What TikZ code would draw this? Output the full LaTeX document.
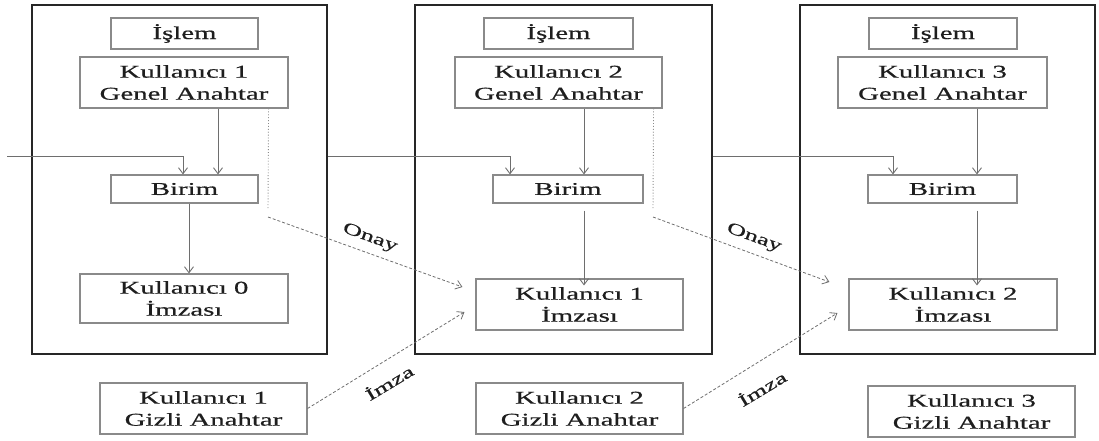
\documentclass[tikz,border=0pt]{standalone}
\usepackage{fontspec}
\setmainfont{Liberation Serif}[FakeStretch=1.6, FakeBold=0.6]
\usetikzlibrary{arrows.meta,calc}
\definecolor{boxline}{HTML}{8A8A8A}
\definecolor{arrline}{HTML}{6E6E6E}
\definecolor{ink}{HTML}{1E1E1E}
\tikzset{
  panel/.style={draw=black!85, line width=2pt, inner sep=0pt},
  cell/.style={draw=boxline, line width=1.1pt, inner sep=0pt, text=ink,
    align=center, font=\fontsize{18}{22}\selectfont},
  arr/.style={draw=arrline, line width=0.9pt, -{Straight Barb[length=6pt,width=9pt]}},
  dots/.style={draw=boxline, line width=0.9pt, dotted},
  dash arr/.style={draw=arrline, line width=0.8pt, dash pattern=on 3pt off 2pt,
    -{Straight Barb[length=6pt,width=9pt]}},
  tag/.style={text=ink, inner sep=0pt, font=\fontsize{16.5}{20}\selectfont},
}
\begin{document}
\begin{tikzpicture}[x=1pt,y=-1pt]
\useasboundingbox (0,0) rectangle (1099,441);

% three panels
\node[panel, minimum width=295pt, minimum height=349pt] (P1) at (179.5,179.5) {};
\node[panel, minimum width=297pt, minimum height=349pt] (P2) at (563.5,179.5) {};
\node[panel, minimum width=295pt, minimum height=349pt] (P3) at (947.5,179.5) {};

% panel 1
\node[cell, minimum width=147pt, minimum height=31pt] (I1) at (184.5,33.5) {İşlem};
\node[cell, minimum width=208pt, minimum height=51pt] (G1) at (184,82.5) {Kullanıcı 1\\Genel Anahtar};
\node[cell, minimum width=147pt, minimum height=28pt] (B1) at (184.5,189) {Birim};
\node[cell, minimum width=208pt, minimum height=49pt] (S0) at (184,298.5) {Kullanıcı 0\\İmzası};
\node[cell, minimum width=207pt, minimum height=51pt] (Z1) at (203.5,408.5) {Kullanıcı 1\\Gizli Anahtar};

% panel 2
\node[cell, minimum width=149pt, minimum height=31pt] (I2) at (558.5,33.5) {İşlem};
\node[cell, minimum width=207pt, minimum height=51pt] (G2) at (558.5,82.5) {Kullanıcı 2\\Genel Anahtar};
\node[cell, minimum width=150pt, minimum height=28pt] (B2) at (568,189) {Birim};
\node[cell, minimum width=207pt, minimum height=51pt] (S1) at (579.5,304.5) {Kullanıcı 1\\İmzası};
\node[cell, minimum width=207pt, minimum height=51pt] (Z2) at (579.5,408.5) {Kullanıcı 2\\Gizli Anahtar};

% panel 3
\node[cell, minimum width=148pt, minimum height=31pt] (I3) at (943,33.5) {İşlem};
\node[cell, minimum width=209pt, minimum height=51pt] (G3) at (942.5,82.5) {Kullanıcı 3\\Genel Anahtar};
\node[cell, minimum width=149pt, minimum height=28pt] (B3) at (942.5,189) {Birim};
\node[cell, minimum width=208pt, minimum height=51pt] (S2) at (953,304.5) {Kullanıcı 2\\İmzası};
\node[cell, minimum width=207pt, minimum height=51pt] (Z3) at (971.5,411.5) {Kullanıcı 3\\Gizli Anahtar};

% chain of units
\coordinate (in0) at (7,156);
\draw[arr] (in0) -| ([xshift=-1.5pt]B1.north);
\draw[arr] (P1.east |- in0) -| ([xshift=-58pt]B2.north);
\draw[arr] (P2.east |- in0) -| ([xshift=-49.5pt]B3.north);

% public key into unit
\draw[arr] ([xshift=34pt]G1.south) -- ([xshift=34pt]G1.south |- B1.north);
\draw[arr] ([xshift=25.5pt]G2.south) -- ([xshift=25.5pt]G2.south |- B2.north);
\draw[arr] ([xshift=34.5pt]G3.south) -- ([xshift=34.5pt]G3.south |- B3.north);

% unit into signature
\draw[arr] ([xshift=4.5pt]B1.south) -- ([xshift=4.5pt]B1.south |- S0.north);
\draw[arr] ([xshift=16pt,yshift=-7pt]B2.south) -- ([xshift=16pt,yshift=-7pt]B2.south |- S1.north);
\draw[arr] ([xshift=34.5pt,yshift=-7pt]B3.south) -- ([xshift=34.5pt,yshift=-7pt]B3.south |- S2.north);

% approval paths
\coordinate (d1) at (268,210);
\coordinate (e1) at (268,217);
\draw[dots] ([xshift=-20pt]G1.south east) -- (d1);
\draw[dash arr] (e1) -- ([xshift=-13pt,yshift=17.5pt]S1.west);
\coordinate (d2) at (653,210);
\coordinate (e2) at (653,217);
\draw[dots] ([xshift=-9pt]G2.south east) -- (d2);
\draw[dash arr] (e2) -- ([xshift=-19pt,yshift=22.5pt]S2.west);

% signing paths
\draw[dash arr] (Z1.east) -- ([xshift=-11pt,yshift=-7.5pt]S1.west);
\draw[dash arr] (Z2.east) -- ([xshift=-11pt,yshift=-8.5pt]S2.west);

% labels
\node[tag, rotate=-20] (on1) at (370,238) {Onay};
\node[tag, rotate=-20] (on2) at (754,238) {Onay};
\node[tag, rotate=31] (im1) at (389,382) {İmza};
\node[tag, rotate=31] (im2) at (762,388) {İmza};
\end{tikzpicture}
\end{document}
